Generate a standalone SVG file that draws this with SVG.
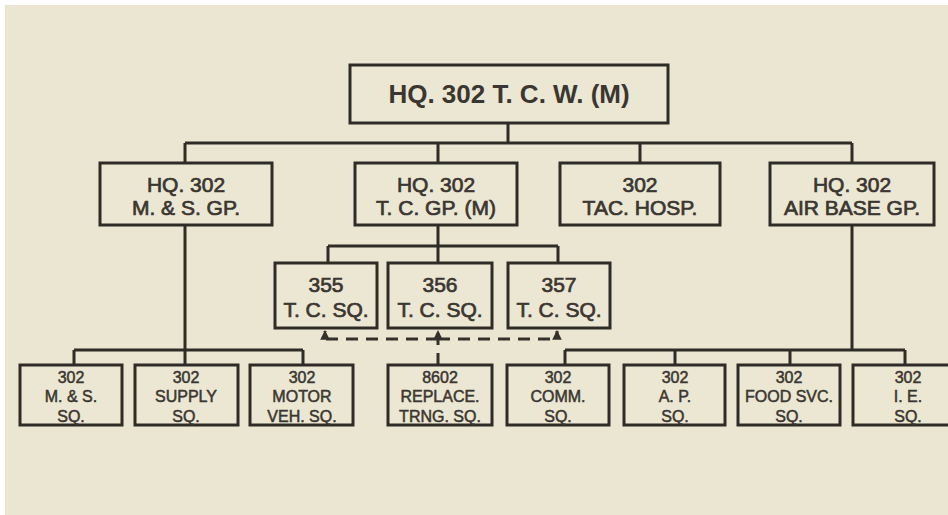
<svg xmlns="http://www.w3.org/2000/svg" width="948" height="515" viewBox="0 0 948 515">
  <defs>
    <marker id="arr" viewBox="0 0 10 10" refX="9" refY="5" markerWidth="3.2" markerHeight="3.2" orient="auto" markerUnits="strokeWidth">
      <path d="M0,0 L10,5 L0,10 z" fill="#34302b"/>
    </marker>
    <style>
      .box { fill: #ebe7d3; stroke: #2f2c28; stroke-width: 3; }
      .ln { fill: none; stroke: #2f2c28; stroke-width: 3; }
      .dash { fill: none; stroke: #34302b; stroke-width: 3; stroke-dasharray: 12 8; }
      text { font-family: "Liberation Sans", Arial, sans-serif; fill: #3a3631; text-anchor: middle; }
      .t1 { font-size: 26px; font-weight: bold; }
      .t2 { font-size: 21px; stroke: #3a3631; stroke-width: 0.7; }
      .t3 { font-size: 16px; stroke: #3a3631; stroke-width: 0.5; }
    </style>
  </defs>
  <rect x="0" y="0" width="948" height="515" fill="#ffffff"/>
  <rect x="5" y="5" width="943" height="510" fill="#ebe6d1"/>

  <g id="connectors">
    <path class="ln" d="M508,123 V143 M185,143 H852 M185,143 V163 M438,143 V163 M640,143 V163 M852,143 V163"/>
    <path class="ln" d="M438,225 V246 M328,246 H558 M328,246 V263 M438,246 V263 M558,246 V263"/>
    <path class="ln" d="M185,225 V350 M74,350 H303 M74,350 V365 M185,350 V365 M303,350 V365"/>
    <path class="ln" d="M852,225 V350 M565,350 H905 M565,350 V365 M675,350 V365 M790,350 V365 M905,350 V365"/>
    <path class="dash" d="M438,365 V331" stroke-dasharray="5 4" marker-end="url(#arr)"/>
    <path class="dash" d="M438,339 H325 V331" marker-end="url(#arr)"/>
    <path class="dash" d="M438,339 H557 V331" marker-end="url(#arr)"/>
  </g>

  <g id="wing">
    <rect class="box" x="350" y="65" width="318" height="58"/>
    <text class="t1" x="509" y="103">HQ. 302 T. C. W. (M)</text>
  </g>

  <g id="ms-gp">
    <rect class="box" x="100" y="163" width="172" height="62"/>
    <text class="t2" x="186" y="192">HQ. 302</text>
    <text class="t2" x="186" y="215">M. &amp; S. GP.</text>
  </g>
  <g id="tc-gp">
    <rect class="box" x="355" y="163" width="162" height="62"/>
    <text class="t2" x="436" y="192">HQ. 302</text>
    <text class="t2" x="436" y="215">T. C. GP. (M)</text>
  </g>
  <g id="tac-hosp">
    <rect class="box" x="560" y="163" width="160" height="62"/>
    <text class="t2" x="640" y="192">302</text>
    <text class="t2" x="640" y="215">TAC. HOSP.</text>
  </g>
  <g id="air-base-gp">
    <rect class="box" x="770" y="163" width="164" height="62"/>
    <text class="t2" x="852" y="192">HQ. 302</text>
    <text class="t2" x="852" y="215">AIR BASE GP.</text>
  </g>

  <g id="sq355">
    <rect class="box" x="275" y="263" width="102" height="65"/>
    <text class="t2" x="326" y="292">355</text>
    <text class="t2" x="326" y="317">T. C. SQ.</text>
  </g>
  <g id="sq356">
    <rect class="box" x="388" y="263" width="104" height="65"/>
    <text class="t2" x="440" y="292">356</text>
    <text class="t2" x="440" y="317">T. C. SQ.</text>
  </g>
  <g id="sq357">
    <rect class="box" x="508" y="263" width="102" height="65"/>
    <text class="t2" x="559" y="292">357</text>
    <text class="t2" x="559" y="317">T. C. SQ.</text>
  </g>

  <g id="ms-sq">
    <rect class="box" x="20" y="365" width="102" height="60"/>
    <text class="t3" x="71" y="383">302</text>
    <text class="t3" x="71" y="402">M. &amp; S.</text>
    <text class="t3" x="71" y="422">SQ.</text>
  </g>
  <g id="supply-sq">
    <rect class="box" x="135" y="365" width="103" height="60"/>
    <text class="t3" x="186" y="383">302</text>
    <text class="t3" x="186" y="402">SUPPLY</text>
    <text class="t3" x="186" y="422">SQ.</text>
  </g>
  <g id="motor-veh-sq">
    <rect class="box" x="250" y="365" width="103" height="60"/>
    <text class="t3" x="302" y="383">302</text>
    <text class="t3" x="302" y="402">MOTOR</text>
    <text class="t3" x="302" y="422">VEH. SQ.</text>
  </g>
  <g id="replace-trng-sq">
    <rect class="box" x="388" y="365" width="104" height="60"/>
    <text class="t3" x="440" y="383">8602</text>
    <text class="t3" x="440" y="402">REPLACE.</text>
    <text class="t3" x="440" y="422">TRNG. SQ.</text>
  </g>
  <g id="comm-sq">
    <rect class="box" x="507" y="365" width="102" height="60"/>
    <text class="t3" x="558" y="383">302</text>
    <text class="t3" x="558" y="402">COMM.</text>
    <text class="t3" x="558" y="422">SQ.</text>
  </g>
  <g id="ap-sq">
    <rect class="box" x="624" y="365" width="101" height="60"/>
    <text class="t3" x="675" y="383">302</text>
    <text class="t3" x="675" y="402">A. P.</text>
    <text class="t3" x="675" y="422">SQ.</text>
  </g>
  <g id="food-svc-sq">
    <rect class="box" x="738" y="365" width="102" height="60"/>
    <text class="t3" x="789" y="383">302</text>
    <text class="t3" x="789" y="402">FOOD SVC.</text>
    <text class="t3" x="789" y="422">SQ.</text>
  </g>
  <g id="ie-sq">
    <rect class="box" x="853" y="365" width="110" height="60"/>
    <text class="t3" x="908" y="383">302</text>
    <text class="t3" x="908" y="402">I. E.</text>
    <text class="t3" x="908" y="422">SQ.</text>
  </g>
</svg>
